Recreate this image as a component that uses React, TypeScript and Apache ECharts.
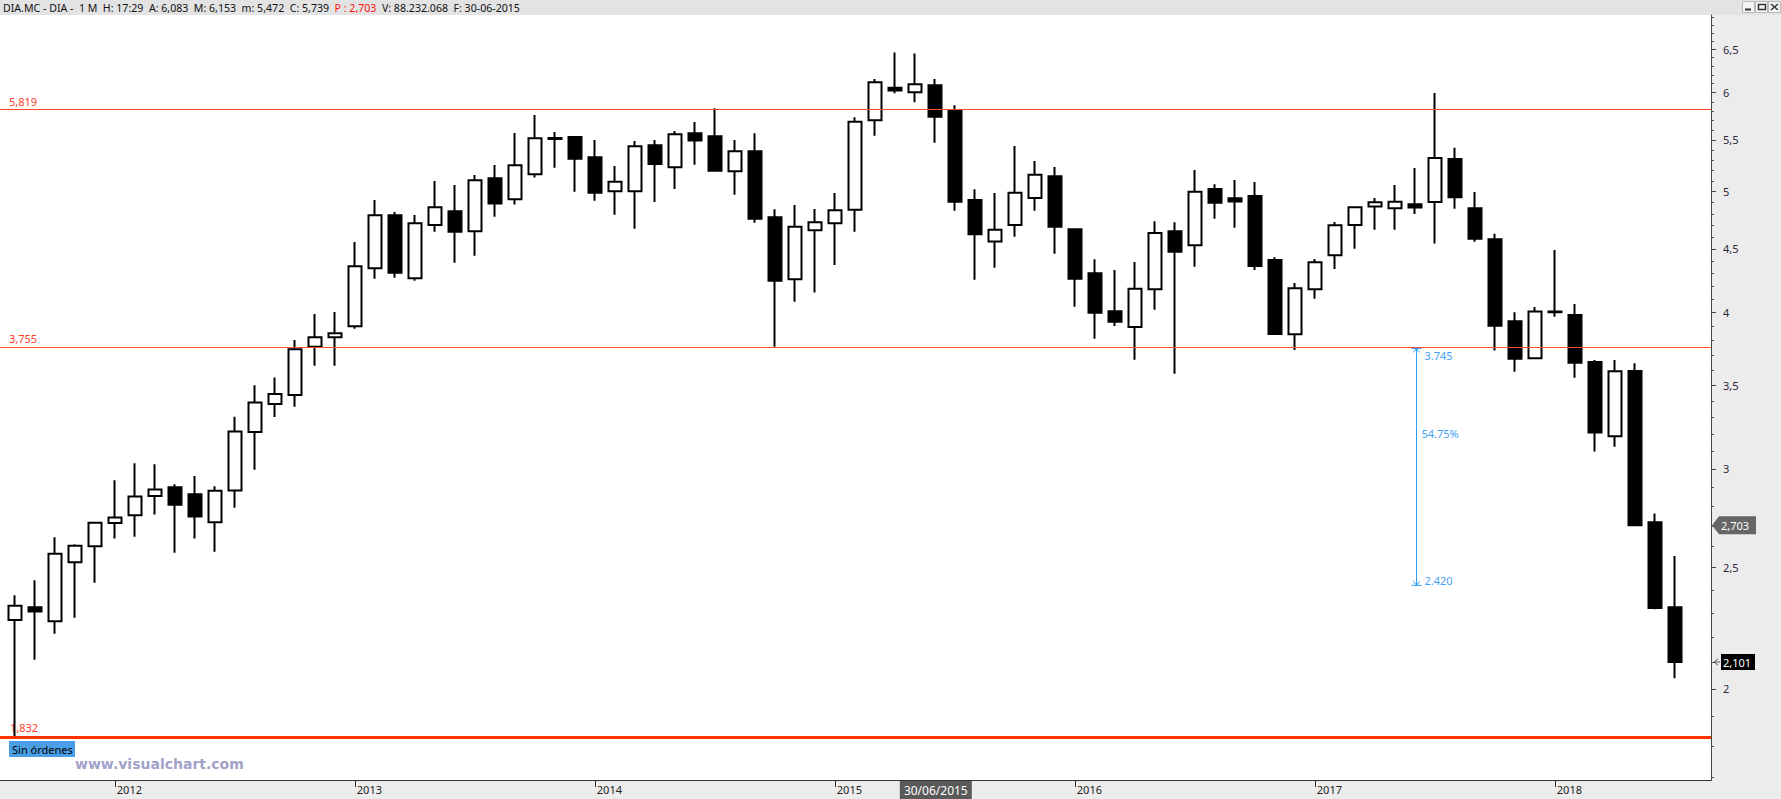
import React, { useEffect, useRef } from 'react';
import * as echarts from 'echarts';

// ---- data (monthly candles, Aug 2011 .. Jul 2018) ----
const monthLabels: string[] = [];
{
  let y = 2011, m = 8;
  for (let i = 0; i < 84; i++) {
    monthLabels.push(String(m).padStart(2, '0') + '/' + y);
    m++;
    if (m > 12) { m = 1; y++; }
  }
}

const openP = [
  2.270, 2.324, 2.265, 2.525, 2.601, 2.715, 2.754, 2.853, 2.900, 2.862,
  2.718, 2.883, 3.210, 3.381, 3.437, 3.757, 3.823, 3.901, 4.341, 4.787,
  4.262, 4.702, 4.822, 4.647, 5.125, 4.931, 5.163, 5.520, 5.530, 5.326,
  5.003, 5.003, 5.446, 5.229, 5.568, 5.537, 5.191, 5.386, 4.769, 4.254,
  4.656, 4.717, 4.835, 5.703, 6.055, 6.004, 6.083, 5.801, 4.924, 4.562,
  4.702, 4.941, 5.143, 4.665, 4.301, 4.010, 3.896, 4.176, 4.647, 4.529,
  5.024, 4.940, 4.960, 4.408, 3.845, 4.176, 4.446, 4.702, 4.864, 4.849,
  4.886, 4.905, 5.310, 4.849, 4.579, 3.937, 3.678, 4.008, 3.983, 3.653,
  3.186, 3.593, 2.718, 2.324,
];
const highP = [
  2.376, 2.443, 2.644, 2.610, 2.720, 2.937, 3.031, 3.025, 2.916, 2.960,
  2.905, 3.302, 3.500, 3.550, 3.804, 3.990, 4.005, 4.557, 4.924, 4.816,
  4.790, 5.099, 5.062, 5.156, 5.252, 5.571, 5.759, 5.581, 5.539, 5.499,
  5.242, 5.489, 5.499, 5.592, 5.685, 5.830, 5.499, 5.568, 4.840, 4.878,
  4.843, 4.987, 5.734, 6.153, 6.463, 6.451, 6.153, 5.862, 5.022, 4.987,
  5.439, 5.291, 5.232, 4.670, 4.414, 4.328, 4.392, 4.734, 4.725, 5.204,
  5.068, 5.109, 5.090, 4.430, 4.225, 4.416, 4.728, 4.860, 4.941, 5.062,
  5.223, 5.996, 5.422, 4.997, 4.626, 4.003, 4.043, 4.490, 4.064, 3.666,
  3.666, 3.644, 2.763, 2.555,
];
const lowP = [
  1.832, 2.110, 2.214, 2.280, 2.432, 2.638, 2.647, 2.757, 2.570, 2.638,
  2.575, 2.792, 2.995, 3.300, 3.364, 3.628, 3.628, 3.884, 4.259, 4.266,
  4.243, 4.644, 4.386, 4.443, 4.774, 4.882, 5.131, 5.225, 4.999, 4.917,
  4.792, 4.670, 4.905, 5.024, 5.255, 5.186, 4.972, 4.722, 3.757, 4.082,
  4.151, 4.367, 4.644, 5.543, 5.994, 5.895, 5.472, 4.827, 4.251, 4.346,
  4.602, 4.827, 4.460, 4.045, 3.813, 3.903, 3.668, 4.022, 3.575, 4.354,
  4.757, 4.678, 4.328, 3.839, 3.734, 4.105, 4.336, 4.501, 4.661, 4.661,
  4.799, 4.545, 4.845, 4.559, 3.730, 3.588, 3.675, 3.970, 3.548, 3.097,
  3.125, 2.699, 2.316, 2.039,
];
const closeP = [
  2.331, 2.306, 2.565, 2.603, 2.716, 2.742, 2.850, 2.887, 2.808, 2.747,
  2.881, 3.213, 3.390, 3.443, 3.739, 3.823, 3.851, 4.357, 4.787, 4.306,
  4.717, 4.858, 4.644, 5.106, 4.891, 5.249, 5.517, 5.510, 5.313, 4.990,
  5.093, 5.436, 5.262, 5.558, 5.493, 5.196, 5.386, 4.757, 4.243, 4.687,
  4.725, 4.831, 5.688, 6.116, 6.025, 6.094, 5.739, 4.908, 4.622, 4.661,
  4.990, 5.158, 4.687, 4.259, 4.000, 3.934, 4.181, 4.633, 4.476, 5.000,
  4.898, 4.910, 4.360, 3.846, 4.184, 4.389, 4.699, 4.858, 4.903, 4.908,
  4.855, 5.320, 4.948, 4.584, 3.905, 3.675, 4.008, 4.004, 3.648, 3.208,
  3.591, 2.704, 2.321, 2.101,
];

const yearTickIdx = [5, 17, 29, 41, 53, 65, 77];
const yearTickLabels = ['2012', '2013', '2014', '2015', '2016', '2017', '2018'];
const priceTicks = [2, 2.5, 3, 3.5, 4, 4.5, 5, 5.5, 6, 6.5];
const priceTickLabels = ['2', '2,5', '3', '3,5', '4', '4,5', '5', '5,5', '6', '6,5'];

const levelValues = [5.819, 3.755, 1.832];
const levelLabels = ['5,819', '3,755', '1,832'];

const measureFrom = 3.745;
const measureTo = 2.42;
const measureLabels = ['3.745', '54.75%', '2.420'];
const measureIdx = 70.06;

const prevValue = 2.703;
const prevLabel = '2,703';
const lastValue = 2.101;
const lastLabel = '2,101';

const cursorIdx = 46;
const cursorLabel = '30/06/2015';

const headerMain1 = 'DIA.MC - DIA -  1 M  H: 17:29  A: 6,083  M: 6,153  m: 5,472  C: 5,739  ';
const headerRed = 'P : 2,703';
const headerMain2 = '  V: 88.232.068  F: 30-06-2015';

const FONT = '"Noto Sans", "Open Sans", sans-serif';

export default function App() {
  const ref = useRef<HTMLDivElement>(null);

  useEffect(() => {
    const el = ref.current as HTMLDivElement;
    const chart = echarts.init(el, null, { renderer: 'svg' });
    const W = 1781;
    const H = 799;
    const axisX = 1711;
    const axisY = 780;

    const minorTicks: number[] = [];
    for (let v = 17; v <= 69; v++) if (v % 5 !== 0) minorTicks.push(v / 10);

    const candleData = openP.map((o, i) => [i, o, closeP[i], lowP[i], highP[i]]);

    chart.setOption({
      animation: false,
      backgroundColor: '#ffffff',
      grid: { left: 0, right: W - axisX, top: 15, bottom: H - axisY, containLabel: false, outerBoundsMode: 'none' },
      xAxis: {
        type: 'value',
        min: -0.74,
        max: 84.81,
        position: 'bottom',
        splitLine: { show: false },
        axisLine: { show: true, onZero: false, lineStyle: { color: '#333333', width: 1 } },
        axisTick: { show: true, customValues: yearTickIdx, length: 7, lineStyle: { color: '#333333' } },
        axisLabel: {
          show: true,
          customValues: yearTickIdx,
          formatter: (v: number) => {
            const k = yearTickIdx.indexOf(Math.round(v));
            return k >= 0 ? yearTickLabels[k] : '';
          },
          align: 'left',
          margin: 4,
          padding: [0, 0, 0, 2],
          color: '#222222',
          fontSize: 11,
          fontFamily: FONT,
        },
      },
      yAxis: [
        {
          type: 'log',
          logBase: 10,
          min: 1.6905,
          max: 6.924,
          position: 'right',
          splitLine: { show: false },
          axisLine: { show: true, onZero: false, lineStyle: { color: '#444444', width: 1 } },
          axisTick: { show: true, customValues: priceTicks, length: 5, lineStyle: { color: '#444444' } },
          axisLabel: {
            show: true,
            customValues: priceTicks,
            formatter: (v: number) => {
              let best = 0;
              for (let k = 0; k < priceTicks.length; k++) {
                if (Math.abs(priceTicks[k] - v) < Math.abs(priceTicks[best] - v)) best = k;
              }
              return priceTickLabels[best];
            },
            margin: 12,
            color: '#2a2a3a',
            fontSize: 11,
            fontFamily: FONT,
          },
        },
        {
          type: 'log',
          logBase: 10,
          min: 1.6905,
          max: 6.924,
          position: 'right',
          splitLine: { show: false },
          axisLine: { show: false, onZero: false },
          axisLabel: { show: false },
          axisTick: { show: true, customValues: minorTicks, length: 3, lineStyle: { color: '#555555' } },
        },
      ],
      series: [
        {
          type: 'candlestick',
          data: candleData,
          encode: { x: 0, y: [1, 2, 3, 4] },
          barWidth: 14,
          itemStyle: {
            color: '#ffffff',
            color0: '#000000',
            borderColor: '#000000',
            borderColor0: '#000000',
            borderWidth: 2,
          },
          markLine: {
            silent: true,
            symbol: 'none',
            label: { show: false },
            data: levelValues.map((v, k) => ({
              yAxis: v,
              lineStyle: { color: k === 2 ? '#ff3300' : '#ff4a22', width: k === 2 ? 3 : 1, type: 'solid' },
            })),
          },
        },
      ],
    });

    const px = (x: number, y: number) => chart.convertToPixel({ seriesIndex: 0 }, [x, y]) as number[];

    const g: any[] = [];
    // background panels
    g.push({ type: 'rect', z: -10, shape: { x: 0, y: 0, width: W, height: 15 }, style: { fill: '#e3e3e3' } });
    g.push({ type: 'rect', z: -10, shape: { x: axisX, y: 15, width: W - axisX, height: axisY - 15 }, style: { fill: '#ececec' } });
    g.push({ type: 'rect', z: -10, shape: { x: 0, y: axisY, width: W, height: H - axisY }, style: { fill: '#ececec' } });

    // header text
    g.push({
      type: 'text', x: 3, y: 8, z: 5,
      style: {
        text: '{a|' + headerMain1 + '}{b|' + headerRed + '}{a|' + headerMain2 + '}',
        rich: {
          a: { fill: '#111111', fontSize: 10.6, fontFamily: FONT },
          b: { fill: '#ff1010', fontSize: 10.6, fontFamily: FONT },
        },
        font: '10.6px ' + FONT,
        align: 'left', verticalAlign: 'middle', textAlign: 'left', textVerticalAlign: 'middle',
      },
    });

    // window buttons
    const bx = [1742, 1755, 1768];
    bx.forEach((x) => {
      g.push({ type: 'rect', z: 5, shape: { x: x + 0.5, y: 1.5, width: 12, height: 11 }, style: { fill: '#f4f4f4', stroke: '#b8b8b8', lineWidth: 1 } });
    });
    g.push({ type: 'line', z: 6, shape: { x1: 1745, y1: 9.5, x2: 1751, y2: 9.5 }, style: { stroke: '#333', lineWidth: 2 } });
    g.push({ type: 'rect', z: 6, shape: { x: 1758.5, y: 4.5, width: 7, height: 5 }, style: { fill: 'none', stroke: '#333', lineWidth: 1.5 } });
    g.push({ type: 'line', z: 6, shape: { x1: 1771, y1: 4, x2: 1778, y2: 10 }, style: { stroke: '#333', lineWidth: 1.5 } });
    g.push({ type: 'line', z: 6, shape: { x1: 1778, y1: 4, x2: 1771, y2: 10 }, style: { stroke: '#333', lineWidth: 1.5 } });

    // level labels
    levelValues.forEach((v, k) => {
      const y = px(0, v)[1];
      g.push({
        type: 'text', x: k === 2 ? 10 : 9, y: y - (k === 2 ? 9 : 8), z: 1,
        style: {
          text: levelLabels[k], fill: '#ff3b1f', font: '11px ' + FONT,
          align: 'left', verticalAlign: 'middle', textAlign: 'left', textVerticalAlign: 'middle',
        },
      });
    });

    // "Sin órdenes" box and watermark
    g.push({ type: 'rect', z: 5, shape: { x: 9, y: 741, width: 66, height: 16 }, style: { fill: '#4a9fe6' } });
    g.push({
      type: 'text', x: 12, y: 749, z: 6,
      style: { text: 'Sin órdenes', fill: '#000000', font: '11px ' + FONT, align: 'left', verticalAlign: 'middle', textAlign: 'left', textVerticalAlign: 'middle' },
    });
    g.push({
      type: 'text', x: 75, y: 764, z: 6,
      style: { text: 'www.visualchart.com', fill: '#a2a2c9', font: 'bold 14px "DejaVu Sans", sans-serif', align: 'left', verticalAlign: 'middle', textAlign: 'left', textVerticalAlign: 'middle' },
    });

    // cursor date box
    const cx = px(cursorIdx, 3)[0];
    g.push({ type: 'rect', z: 5, shape: { x: cx - 35, y: axisY + 1, width: 72, height: H - axisY - 1 }, style: { fill: '#5a5a5a' } });
    g.push({
      type: 'text', x: cx + 1, y: axisY + 10, z: 6,
      style: { text: cursorLabel, fill: '#ffffff', font: '12px ' + FONT, align: 'center', verticalAlign: 'middle', textAlign: 'center', textVerticalAlign: 'middle' },
    });

    // price tags on the axis
    const yp = px(0, prevValue)[1];
    g.push({
      type: 'polygon', z: 5,
      shape: { points: [[axisX + 1, yp], [axisX + 8, yp - 9], [1756, yp - 9], [1756, yp + 9], [axisX + 8, yp + 9]] },
      style: { fill: '#666666' },
    });
    g.push({
      type: 'text', x: 1721, y: yp, z: 6,
      style: { text: prevLabel, fill: '#ffffff', font: '11px ' + FONT, align: 'left', verticalAlign: 'middle', textAlign: 'left', textVerticalAlign: 'middle' },
    });
    const yl = px(0, lastValue)[1];
    g.push({ type: 'rect', z: 5, shape: { x: 1721, y: yl - 8, width: 34, height: 16 }, style: { fill: '#000000' } });
    g.push({
      type: 'text', x: 1723, y: yl, z: 6,
      style: { text: lastLabel, fill: '#ffffff', font: '11px ' + FONT, align: 'left', verticalAlign: 'middle', textAlign: 'left', textVerticalAlign: 'middle' },
    });
    g.push({ type: 'polyline', z: 6, shape: { points: [[axisX + 7, yl - 3], [axisX + 3, yl], [axisX + 7, yl + 3]] }, style: { stroke: '#555', lineWidth: 1, fill: 'none' } });
    g.push({ type: 'line', z: 6, shape: { x1: axisX + 3, y1: yl, x2: axisX + 9, y2: yl }, style: { stroke: '#555', lineWidth: 1 } });

    // measurement annotation
    const p1 = px(measureIdx, measureFrom);
    const p2 = px(measureIdx, measureTo);
    const mx = Math.round(p1[0]) + 0.5;
    const blue = '#2d9cf5';
    const blueText = '#3fa2f8';
    g.push({ type: 'line', z: 7, shape: { x1: mx, y1: p1[1], x2: mx, y2: p2[1] }, style: { stroke: blue, lineWidth: 1 } });
    g.push({ type: 'line', z: 7, shape: { x1: mx - 5, y1: p1[1], x2: mx + 5, y2: p1[1] }, style: { stroke: blue, lineWidth: 1 } });
    g.push({ type: 'line', z: 7, shape: { x1: mx - 5, y1: p2[1], x2: mx + 5, y2: p2[1] }, style: { stroke: blue, lineWidth: 1 } });
    g.push({ type: 'polyline', z: 7, shape: { points: [[mx - 3, p1[1] + 4], [mx, p1[1]], [mx + 3, p1[1] + 4]] }, style: { stroke: blue, lineWidth: 1, fill: 'none' } });
    g.push({ type: 'polyline', z: 7, shape: { points: [[mx - 3, p2[1] - 4], [mx, p2[1]], [mx + 3, p2[1] - 4]] }, style: { stroke: blue, lineWidth: 1, fill: 'none' } });
    g.push({
      type: 'text', x: mx + 8, y: p1[1] + 7, z: 7,
      style: { text: measureLabels[0], fill: blueText, font: '11px ' + FONT, align: 'left', verticalAlign: 'middle', textAlign: 'left', textVerticalAlign: 'middle' },
    });
    g.push({
      type: 'text', x: mx + 5, y: p1[1] + (p2[1] - p1[1]) * 0.36, z: 7,
      style: { text: measureLabels[1], fill: blueText, font: '11px ' + FONT, align: 'left', verticalAlign: 'middle', textAlign: 'left', textVerticalAlign: 'middle' },
    });
    g.push({
      type: 'text', x: mx + 8, y: p2[1] - 5, z: 7,
      style: { text: measureLabels[2], fill: blueText, font: '11px ' + FONT, align: 'left', verticalAlign: 'middle', textAlign: 'left', textVerticalAlign: 'middle' },
    });

    chart.setOption({ graphic: { elements: g } });

    return () => {
      chart.dispose();
    };
  }, []);

  return (
    <div
      ref={ref}
      style={{ position: 'absolute', left: 0, top: 0, width: 1781, height: 799, background: '#ffffff' }}
    />
  );
}
